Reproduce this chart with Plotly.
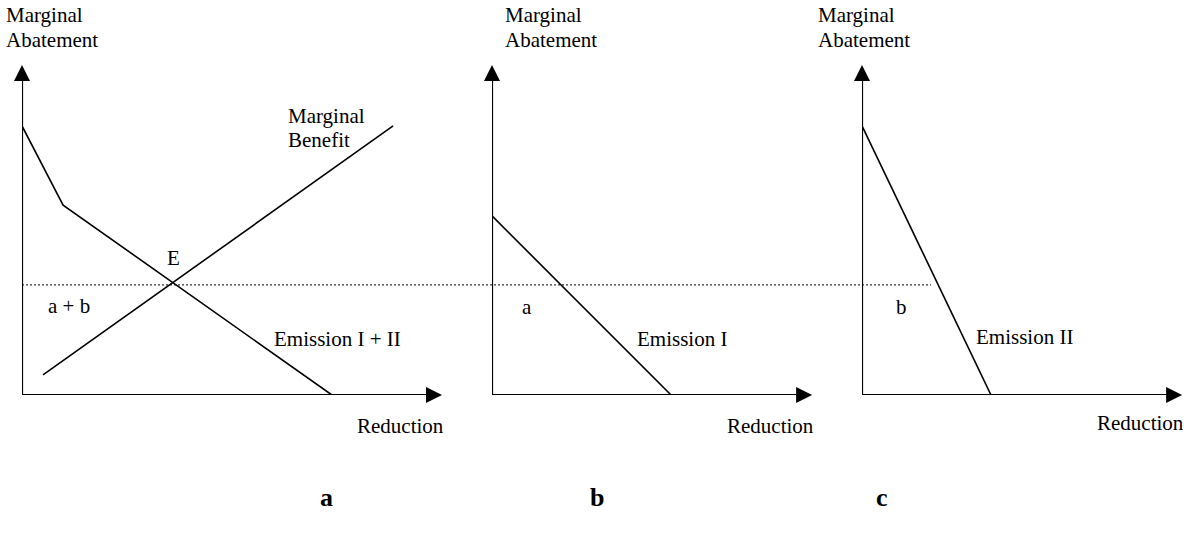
import plotly.graph_objects as go

# ---------------- data (abstract units: Reduction on x, Marginal Abatement on y) ----------------
# Panel a: aggregate abatement cost (Emission I + II) and marginal benefit
emission_total_x = [0.0, 1.37, 10.33]
emission_total_y = [8.97, 6.33, 0.0]
benefit_x = [0.70, 12.37]
benefit_y = [0.67, 8.97]
# Panel b: Emission I
emission_1_x = [0.0, 5.97]
emission_1_y = [5.97, 0.0]
# Panel c: Emission II
emission_2_x = [0.0, 4.30]
emission_2_y = [8.97, 0.0]
# common marginal abatement level (dotted line) and where it stops in panel c
price_level = 3.67
price_line_end_c = 2.30
# axis extents (arrow tips)
y_axis_top = 11.0
x_axis_end = {"a": 14.0, "b": 10.67, "c": 10.67}

panel_names = ["a", "b", "c"]

# ---------------- layout geometry (pixels) ----------------
W, H = 1184, 536
UNIT = 30.0                      # pixels per data unit
origin_px = {"a": 22, "b": 492, "c": 862}
origin_py = 395
right_px = {"a": 452, "b": 822, "c": 1184}
top_py = 55


def pxp(x):
    return x / W


def pyp(y):
    return 1 - y / H


FONT = "Liberation Serif, Times New Roman, serif"
BLACK = "#000000"

fig = go.Figure()
layout_axes = {}
for i, name in enumerate(panel_names):
    sfx = "" if i == 0 else str(i + 1)
    x0, x1 = origin_px[name], right_px[name]
    layout_axes["xaxis" + sfx] = dict(
        domain=[pxp(x0), pxp(x1)], range=[0, (x1 - x0) / UNIT],
        visible=False, fixedrange=True, anchor="y" + sfx)
    layout_axes["yaxis" + sfx] = dict(
        domain=[pyp(origin_py), pyp(top_py)], range=[0, (origin_py - top_py) / UNIT],
        visible=False, fixedrange=True, anchor="x" + sfx)

line_style = dict(color=BLACK, width=1.6)
axis_style = dict(color=BLACK, width=2.2)


def add(trace, idx):
    sfx = "" if idx == 0 else str(idx + 1)
    trace.update(xaxis="x" + sfx, yaxis="y" + sfx, showlegend=False,
                 hoverinfo="skip", cliponaxis=False)
    fig.add_trace(trace)


# axes with arrow heads
for i, name in enumerate(panel_names):
    add(go.Scatter(x=[0, 0], y=[0, y_axis_top - 0.3], mode="lines", line=axis_style), i)
    add(go.Scatter(x=[0, x_axis_end[name] - 0.3], y=[0, 0], mode="lines", line=axis_style), i)
    add(go.Scatter(x=[0], y=[y_axis_top], mode="markers",
                   marker=dict(symbol="arrow-up", size=16, color=BLACK, line=dict(width=0))), i)
    add(go.Scatter(x=[x_axis_end[name]], y=[0], mode="markers",
                   marker=dict(symbol="arrow-right", size=16, color=BLACK, line=dict(width=0))), i)

# curves
add(go.Scatter(x=emission_total_x, y=emission_total_y, mode="lines", line=line_style), 0)
add(go.Scatter(x=benefit_x, y=benefit_y, mode="lines", line=line_style), 0)
add(go.Scatter(x=emission_1_x, y=emission_1_y, mode="lines", line=line_style), 1)
add(go.Scatter(x=emission_2_x, y=emission_2_y, mode="lines", line=line_style), 2)

fig.update_layout(**layout_axes)

# dotted price line spanning all panels (paper x, data y)
end_px = origin_px["c"] + price_line_end_c * UNIT
fig.add_shape(type="line", xref="paper", yref="y",
              x0=pxp(origin_px["a"]), x1=pxp(end_px), y0=price_level, y1=price_level,
              line=dict(color=BLACK, width=1, dash="2px,2px"))

# ---------------- text ----------------
annotations = []


def txt(text, x, y, size=21, xanchor="left", bold=False):
    if bold:
        text = "<b>" + text + "</b>"
    annotations.append(dict(text=text, x=pxp(x), y=pyp(y), xref="paper", yref="paper",
                            xanchor=xanchor, yanchor="middle", showarrow=False,
                            font=dict(family=FONT, size=size, color=BLACK)))


for left in (4, 503, 816):
    txt("Marginal", left, 15)
    txt("Abatement", left, 40)

txt("Marginal", 286, 116)
txt("Benefit", 286, 140)
txt("E", 173, 258, xanchor="center")
txt("a + b", 46, 306)
txt("Emission I + II", 272, 339)
txt("Reduction", 355, 426)

txt("a", 520, 307)
txt("Emission I", 635, 339)
txt("Reduction", 725, 426)

txt("b", 894, 307)
txt("Emission II", 974, 337)
txt("Reduction", 1095, 423)

txt("a", 326, 497, size=26, xanchor="center", bold=True)
txt("b", 597, 497, size=26, xanchor="center", bold=True)
txt("c", 882, 497, size=26, xanchor="center", bold=True)

fig.update_layout(
    width=W, height=H,
    margin=dict(l=0, r=0, t=0, b=0),
    paper_bgcolor="white", plot_bgcolor="white",
    annotations=annotations,
    showlegend=False,
)

fig.write_html(
    "out.html",
    config={"displayModeBar": False},
    post_script="document.body.style.margin='0';document.body.style.overflow='hidden';",
)
